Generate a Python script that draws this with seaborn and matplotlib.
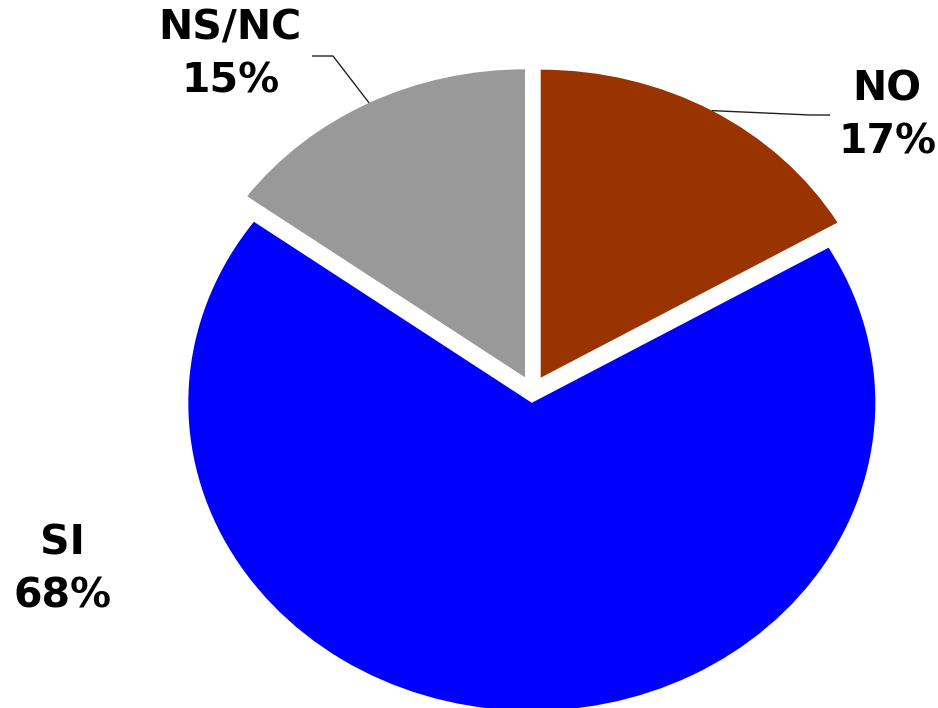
import matplotlib
matplotlib.use("Agg")
import matplotlib.pyplot as plt
import seaborn as sns
import numpy as np

# ---- data ----
categories = ["NO", "SI", "NS/NC"]
values = [16.6, 68.4, 15.0]
colors = ["#993300", "#0000FF", "#999999"]
explode = [0.048, 0.04, 0.048]

sns.set_theme(style="white")
plt.rcParams['font.family'] = ['DejaVu Sans']

W, H = 938, 708
fig = plt.figure(figsize=(W / 100, H / 100), dpi=100)
ax = fig.add_axes([0, 0, 1, 1])

palette = sns.color_palette(colors)
wedges, _ = ax.pie(values, colors=palette, explode=explode, startangle=90,
                   counterclock=False, radius=1.0,
                   wedgeprops=dict(linewidth=0))

# elliptical look: x-unit = 343.5 px, y-unit = 308 px
cx_px, cy_px = 532.5, 390.5
rx, ry = 343.5, 308.0
ax.set_aspect('auto')
ax.set_xlim(-cx_px / rx, (W - cx_px) / rx)
ax.set_ylim(-(H - cy_px) / ry, cy_px / ry)
ax.axis('off')


def px(x, y):
    return ((x - cx_px) / rx, (cy_px - y) / ry)


def rim(w, r=1.0):
    ang = np.deg2rad((w.theta1 + w.theta2) / 2)
    c = w.center
    return (c[0] + r * np.cos(ang), c[1] + r * np.sin(ang))


total = sum(values)
labels = [f"{c}\n{round(100 * v / total):.0f}%" for c, v in zip(categories, values)]
text_pos = {"NO": (887, 116), "SI": (62, 570), "NS/NC": (230, 55)}
elbows = {"NO": [(810, 115), (830, 115)], "NS/NC": [(333, 56), (312, 56)]}

for w, cat, lab in zip(wedges, categories, labels):
    tx, ty = px(*text_pos[cat])
    ax.text(tx, ty, lab, ha='center', va='center', fontsize=29.5,
            fontweight='bold', color='black', linespacing=1.4)
    if cat in elbows:
        pts = [rim(w)] + [px(*p) for p in elbows[cat]]
        xs, ys = zip(*pts)
        ax.plot(xs, ys, color='#222222', lw=1.0, solid_capstyle='butt')

fig.savefig("out.png", dpi=100)
